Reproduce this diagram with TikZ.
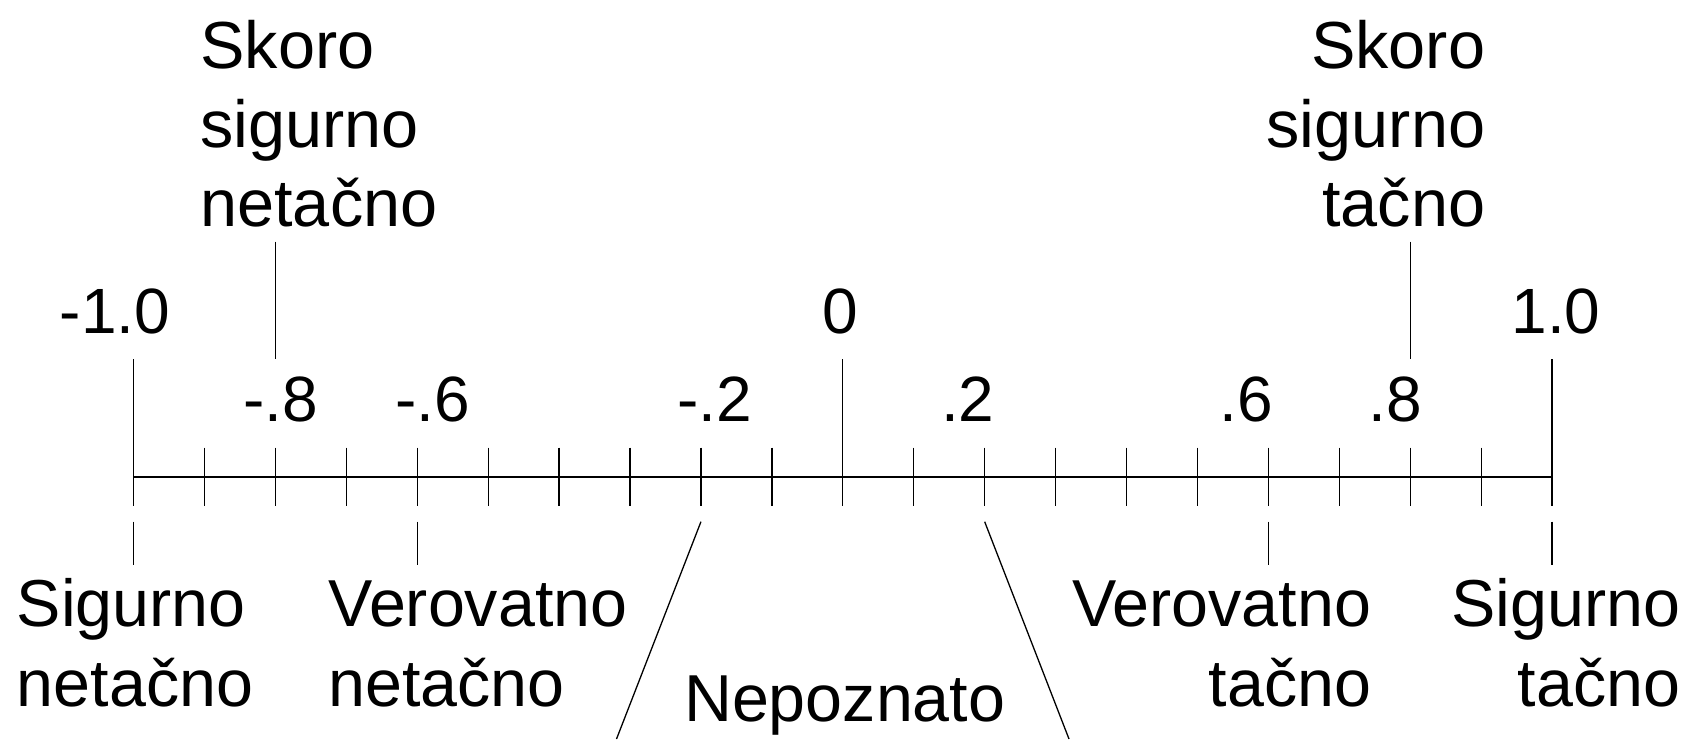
\documentclass[tikz,border=0pt]{standalone}
\usepackage{fontspec}
\setmainfont{Liberation Sans}
\usetikzlibrary{positioning,calc}

\tikzset{
	numlabel/.style={inner sep=0pt, font=\fontsize{32}{39.5}\selectfont},
	toplabel/.style={inner sep=0pt, font=\fontsize{33.3}{39.6}\selectfont},
	catlabel/.style={inner sep=0pt, font=\fontsize{33.2}{40}\selectfont},
	scaleline/.style={line width=1pt},
	scaletick/.style={line width=0.65pt},
}

\begin{document}
\begin{tikzpicture}[x=0.5pt,y=-0.5pt]
	\useasboundingbox (0,0) rectangle (1689,739);
	% the scale, one tick every 0.1
	\foreach \i in {0,...,20}
		\coordinate (t\i) at ({133.5+70.93*\i},476.7);
	\draw[scaleline] (t0) -- (t20);
	\foreach \i in {1,...,19}
		\draw[scaletick] ($(t\i)+(0,-29)$) -- ($(t\i)+(0,29.3)$);
	\foreach \i in {0,10,20}
		\draw[scaletick] ($(t\i)+(0,-117.4)$) -- ($(t\i)+(0,29.3)$);
	% values
	\node[numlabel, anchor=base] (vm10) at (115,333.3) {-1.0};
	\node[numlabel, anchor=base] (v0) at (840,333.3) {0};
	\node[numlabel, anchor=base] (v10) at (1556,333.3) {1.0};
	\node[numlabel, anchor=base] (vm8) at (280.8,421) {-.8};
	\node[numlabel, anchor=base] (vm6) at (432.6,421) {-.6};
	\node[numlabel, anchor=base] (vm2) at (714.5,421) {-.2};
	\node[numlabel, anchor=base] (v2) at (967.8,421) {.2};
	\node[numlabel, anchor=base] (v6) at (1246,421) {.6};
	\node[numlabel, anchor=base] (v8) at (1395,421) {.8};
	% upper labels
	\node[toplabel, align=left, anchor=base west] (nearfalse) at (200,226.7) {Skoro\\sigurno\\netačno};
	\node[toplabel, align=right, anchor=base east] (neartrue) at (1485.5,226.7) {Skoro\\sigurno\\tačno};
	\draw[scaletick] ($(t2)+(0,-235)$) -- ($(t2)+(0,-117.7)$);
	\draw[scaletick] ($(t18)+(0,-235)$) -- ($(t18)+(0,-117.7)$);
	% lower labels
	\node[catlabel, align=left, anchor=base west] (surefalse) at (16.5,706.7) {Sigurno\\netačno};
	\node[catlabel, align=left, anchor=base west] (likelyfalse) at (328,706.7) {Verovatno\\netačno};
	\node[catlabel, anchor=base] (unknown) at (844.7,721.7) {Nepoznato};
	\node[catlabel, align=right, anchor=base east] (likelytrue) at (1371.5,706.7) {Verovatno\\tačno};
	\node[catlabel, align=right, anchor=base east] (suretrue) at (1680.5,706.7) {Sigurno\\tačno};
	\foreach \i in {0,4,16,20}
		\draw[scaletick] ($(t\i)+(0,45)$) -- ($(t\i)+(0,88.3)$);
	\coordinate (ulow) at (616.5,739);
	\coordinate (ulowr) at (1069,739);
	\draw[scaletick] ($(t8)+(0,45)$) -- (ulow);
	\draw[scaletick] ($(t12)+(0,45)$) -- (ulowr);
\end{tikzpicture}
\end{document}
